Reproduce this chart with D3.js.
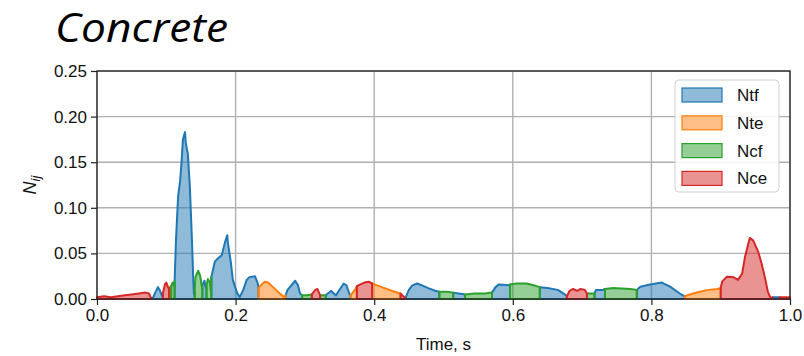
<!DOCTYPE html>
<html><head><meta charset="utf-8">
<script src="https://cdn.jsdelivr.net/npm/d3@7"></script>
<style>body{margin:0;background:#fff;} svg{display:block;}</style>
</head><body>
<svg id="chart" width="804" height="356"></svg>
<script>
// Failure-index signal over time; each sample is tagged with the governing mode.
const seriesNames  = ["Ntf", "Nte", "Ncf", "Nce"];
const seriesColors = ["#1f77b4", "#ff7f0e", "#2ca02c", "#d62728"];

const times = [
  0.000, 0.010, 0.020, 0.030, 0.040, 0.050, 0.060, 0.070, 0.075, 0.078,
  0.080, 0.084, 0.088, 0.091, 0.094,
  0.095, 0.098, 0.100, 0.103,
  0.104, 0.106,
  0.107, 0.109, 0.111,
  0.112, 0.114, 0.117, 0.120, 0.122, 0.124, 0.127, 0.128, 0.130, 0.131, 0.134, 0.137, 0.139, 0.140,
  0.141, 0.142, 0.146, 0.149, 0.151,
  0.152, 0.155, 0.157,
  0.158, 0.160, 0.163, 0.164,
  0.165, 0.170, 0.175, 0.180, 0.185, 0.188, 0.189, 0.193, 0.196, 0.202, 0.206, 0.211, 0.216, 0.220, 0.228, 0.232,
  0.233, 0.235, 0.242, 0.247, 0.254, 0.261, 0.270,
  0.272, 0.275, 0.286, 0.290, 0.293,
  0.296, 0.303,
  0.310, 0.315, 0.318,
  0.322, 0.326,
  0.330, 0.338, 0.340, 0.345, 0.348, 0.356, 0.360, 0.364,
  0.366, 0.372,
  0.375, 0.380, 0.386, 0.392,
  0.397, 0.404, 0.411, 0.425, 0.437,
  0.438, 0.442,
  0.445, 0.450, 0.455, 0.462, 0.469, 0.478, 0.488,
  0.494, 0.505,
  0.514, 0.522,
  0.531, 0.545, 0.560,
  0.570, 0.575, 0.580, 0.595,
  0.596, 0.605, 0.620, 0.630,
  0.639, 0.650, 0.665, 0.675,
  0.678, 0.682, 0.687, 0.693, 0.698, 0.704,
  0.707, 0.713,
  0.718, 0.720, 0.730,
  0.733, 0.745, 0.770,
  0.779, 0.784, 0.798, 0.815, 0.827, 0.841,
  0.848, 0.860, 0.870, 0.882, 0.895,
  0.900, 0.902, 0.909, 0.918, 0.925, 0.931, 0.935, 0.942, 0.947, 0.954, 0.959, 0.964, 0.968, 0.972,
  0.975, 0.980,
  0.985, 0.995, 1.000
];

const values = [
  0.002, 0.003, 0.002, 0.003, 0.004, 0.005, 0.006, 0.007, 0.006, 0.001,
  0.000, 0.007, 0.013, 0.009, 0.003,
  0.006, 0.016, 0.018, 0.012,
  0.012, 0.014,
  0.014, 0.018, 0.014,
  0.020, 0.065, 0.112, 0.130, 0.150, 0.175, 0.183, 0.172, 0.163, 0.160, 0.123, 0.065, 0.020, 0.005,
  0.010, 0.024, 0.031, 0.025, 0.014,
  0.015, 0.020, 0.012,
  0.015, 0.022, 0.018, 0.010,
  0.024, 0.041, 0.045, 0.048, 0.063, 0.070, 0.061, 0.041, 0.021, 0.007, 0.002, 0.010, 0.021, 0.024, 0.025, 0.017,
  0.012, 0.014, 0.019, 0.018, 0.013, 0.008, 0.002,
  0.004, 0.010, 0.020, 0.015, 0.006,
  0.004, 0.004,
  0.005, 0.010, 0.011,
  0.004, 0.004,
  0.004, 0.009, 0.007, 0.004, 0.008, 0.017, 0.015, 0.006,
  0.004, 0.010,
  0.014, 0.016, 0.018, 0.019,
  0.017, 0.015, 0.013, 0.009, 0.006,
  0.006, 0.003,
  0.001, 0.010, 0.015, 0.017, 0.015, 0.012, 0.009,
  0.008, 0.008,
  0.007, 0.006,
  0.005, 0.006, 0.006,
  0.007, 0.013, 0.016, 0.015,
  0.016, 0.017, 0.017, 0.015,
  0.013, 0.012, 0.010, 0.005,
  0.003, 0.009, 0.011, 0.009, 0.011, 0.010,
  0.006, 0.006,
  0.006, 0.010, 0.010,
  0.011, 0.012, 0.011,
  0.010, 0.0135, 0.016, 0.018, 0.0135, 0.006,
  0.003, 0.006, 0.008, 0.010, 0.011,
  0.012, 0.019, 0.0245, 0.024, 0.021, 0.028, 0.046, 0.067, 0.064, 0.052, 0.039, 0.023, 0.008, 0.001,
  0.002, 0.002,
  0.002, 0.002, 0.002
];

const modes = [
  "Nce", "Nce", "Nce", "Nce", "Nce", "Nce", "Nce", "Nce", "Nce", "Nce",
  "Ntf", "Ntf", "Ntf", "Ntf", "Ntf",
  "Nce", "Nce", "Nce", "Nce",
  "Nte", "Nte",
  "Ncf", "Ncf", "Ncf",
  "Ntf", "Ntf", "Ntf", "Ntf", "Ntf", "Ntf", "Ntf", "Ntf", "Ntf", "Ntf", "Ntf", "Ntf", "Ntf", "Ntf",
  "Ncf", "Ncf", "Ncf", "Ncf", "Ncf",
  "Ntf", "Ntf", "Ntf",
  "Ncf", "Ncf", "Ncf", "Ncf",
  "Ntf", "Ntf", "Ntf", "Ntf", "Ntf", "Ntf", "Ntf", "Ntf", "Ntf", "Ntf", "Ntf", "Ntf", "Ntf", "Ntf", "Ntf", "Ntf",
  "Nte", "Nte", "Nte", "Nte", "Nte", "Nte", "Nte",
  "Ntf", "Ntf", "Ntf", "Ntf", "Ntf",
  "Ncf", "Ncf",
  "Nce", "Nce", "Nce",
  "Ncf", "Ncf",
  "Ntf", "Ntf", "Ntf", "Ntf", "Ntf", "Ntf", "Ntf", "Ntf",
  "Nte", "Nte",
  "Nce", "Nce", "Nce", "Nce",
  "Nte", "Nte", "Nte", "Nte", "Nte",
  "Nce", "Nce",
  "Ntf", "Ntf", "Ntf", "Ntf", "Ntf", "Ntf", "Ntf",
  "Ncf", "Ncf",
  "Ntf", "Ntf",
  "Ncf", "Ncf", "Ncf",
  "Ntf", "Ntf", "Ntf", "Ntf",
  "Ncf", "Ncf", "Ncf", "Ncf",
  "Ntf", "Ntf", "Ntf", "Ntf",
  "Nce", "Nce", "Nce", "Nce", "Nce", "Nce",
  "Ncf", "Ncf",
  "Ntf", "Ntf", "Ntf",
  "Ncf", "Ncf", "Ncf",
  "Ntf", "Ntf", "Ntf", "Ntf", "Ntf", "Ntf",
  "Nte", "Nte", "Nte", "Nte", "Nte",
  "Nce", "Nce", "Nce", "Nce", "Nce", "Nce", "Nce", "Nce", "Nce", "Nce", "Nce", "Nce", "Nce", "Nce",
  "Ntf", "Ntf",
  "Nce", "Nce", "Nce"
];

const xTickValues = [0, 0.2, 0.4, 0.6, 0.8, 1.0];
const yTickValues = [0, 0.05, 0.10, 0.15, 0.20, 0.25];

const margin = {left: 97, right: 14, top: 71, bottom: 57};
const width = 804, height = 356;
const svg = d3.select("#chart");

const x = d3.scaleLinear().domain([0, 1]).range([margin.left, width - margin.right]);
const y = d3.scaleLinear().domain([0, 0.25]).range([height - margin.bottom, margin.top]);

const tickFont = "'Liberation Sans', Arial, sans-serif";

// title
svg.append("text")
  .attr("x", 55).attr("y", 42)
  .attr("font-family", "'Open Sans', sans-serif")
  .attr("font-style", "italic")
  .attr("font-size", 40)
  .attr("textLength", 173)
  .attr("lengthAdjust", "spacingAndGlyphs")
  .attr("fill", "#000")
  .text("Concrete");

// grid
const grid = svg.append("g").attr("stroke", "#b0b0b0").attr("stroke-width", 1.4);
grid.selectAll("line.gx").data(xTickValues).join("line")
  .attr("x1", d => x(d)).attr("x2", d => x(d))
  .attr("y1", y(0)).attr("y2", y(0.25));
grid.selectAll("line.gy").data(yTickValues).join("line")
  .attr("x1", x(0)).attr("x2", x(1))
  .attr("y1", d => y(d)).attr("y2", d => y(d));

// filled regions, one per governing mode
const idx = d3.range(times.length);
seriesNames.forEach((name, k) => {
  const area = d3.area()
    .defined(i => modes[i] === name || (i > 0 && modes[i - 1] === name))
    .x(i => x(times[i]))
    .y0(y(0))
    .y1(i => y(values[i]));
  svg.append("path")
    .datum(idx)
    .attr("d", area)
    .attr("fill", seriesColors[k])
    .attr("fill-opacity", 0.5)
    .attr("stroke", seriesColors[k])
    .attr("stroke-width", 2)
    .attr("stroke-linejoin", "round");
});

// axes
const xAxis = d3.axisBottom(x).tickValues(xTickValues).tickFormat(d3.format(".1f")).tickSize(6).tickPadding(4);
const yAxis = d3.axisLeft(y).tickValues(yTickValues).tickFormat(d3.format(".2f")).tickSize(6).tickPadding(4);

const gx = svg.append("g").attr("transform", `translate(0,${y(0)})`).call(xAxis);
const gy = svg.append("g").attr("transform", `translate(${x(0)},0)`).call(yAxis);
[gx, gy].forEach(g => {
  g.select(".domain").remove();
  g.selectAll("line").attr("stroke", "#222").attr("stroke-width", 1.2);
  g.selectAll("text").attr("font-family", tickFont).attr("font-size", 17).attr("fill", "#111");
});

// frame
svg.append("rect")
  .attr("x", x(0)).attr("y", y(0.25))
  .attr("width", x(1) - x(0)).attr("height", y(0) - y(0.25))
  .attr("fill", "none").attr("stroke", "#222").attr("stroke-width", 1.3);

// axis labels
svg.append("text")
  .attr("x", (x(0) + x(1)) / 2).attr("y", 350)
  .attr("text-anchor", "middle")
  .attr("font-family", tickFont).attr("font-size", 17).attr("fill", "#111")
  .text("Time, s");

const yl = svg.append("text")
  .attr("transform", `translate(36,${(y(0) + y(0.25)) / 2}) rotate(-90)`)
  .attr("text-anchor", "middle")
  .attr("font-family", tickFont).attr("font-size", 18).attr("fill", "#111");
yl.append("tspan").attr("font-style", "italic").text("N");
yl.append("tspan").attr("font-style", "italic").attr("font-size", 13).attr("dy", 4).text("ij");

// legend
const lg = svg.append("g").attr("transform", "translate(675,80)");
lg.append("rect")
  .attr("width", 104).attr("height", 112).attr("rx", 4)
  .attr("fill", "#fff").attr("fill-opacity", 0.85)
  .attr("stroke", "#d0d0d0").attr("stroke-width", 1);
seriesNames.forEach((name, k) => {
  const row = lg.append("g").attr("transform", `translate(7,${8 + k * 27.8})`);
  row.append("rect")
    .attr("width", 40).attr("height", 14)
    .attr("fill", seriesColors[k]).attr("fill-opacity", 0.5)
    .attr("stroke", seriesColors[k]).attr("stroke-width", 1.2);
  row.append("text")
    .attr("x", 55).attr("y", 13)
    .attr("font-family", tickFont).attr("font-size", 17).attr("fill", "#111")
    .text(name);
});
</script>
</body></html>
